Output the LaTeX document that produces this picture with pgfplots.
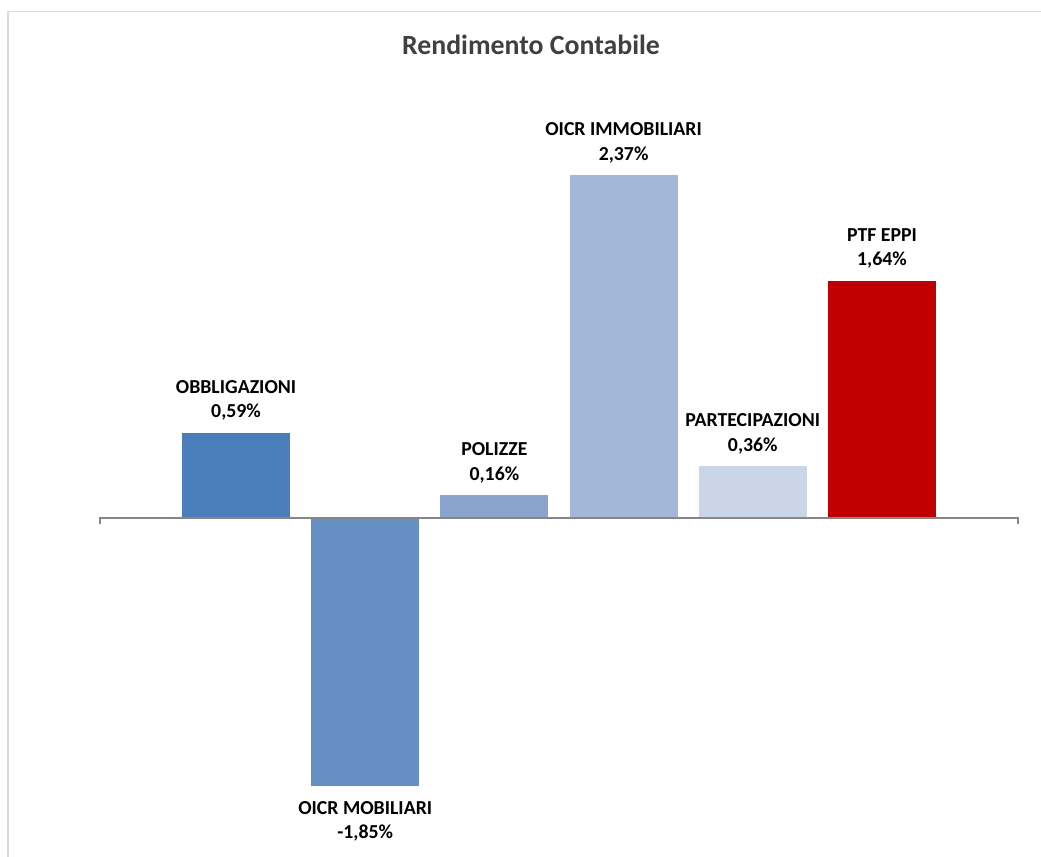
\documentclass[border=0pt]{standalone}
\usepackage{pgfplots}
\pgfplotsset{compat=1.18}
\usepackage{fontspec}
\setmainfont{Carlito}

\definecolor{obbl}{HTML}{4A7EBB}
\definecolor{oicrmob}{HTML}{668FC5}
\definecolor{polizze}{HTML}{8BA4CD}
\definecolor{oicrimm}{HTML}{A3B7D8}
\definecolor{partec}{HTML}{CAD5E7}
\definecolor{ptf}{HTML}{C00000}
\definecolor{framegray}{HTML}{D9D9D9}
\definecolor{axisgray}{HTML}{868686}
\definecolor{titlegray}{HTML}{404040}

\newcommand{\pct}{\pgfmathprintnumber[fixed,fixed zerofill,precision=2,use comma,assume math mode=true]{\pgfplotspointmeta}\%}

\begin{document}
\begin{tikzpicture}
\useasboundingbox (0,0) rectangle (1041bp,857bp);
% chart area border
\draw[framegray, line width=1.6bp] (8bp,-2bp) -- (8bp,845.5bp) -- (1045bp,845.5bp);
% title
\node[anchor=base, text=titlegray, font=\fontsize{27.8bp}{33bp}\selectfont\bfseries]
  at (531bp,802bp) {Rendimento Contabile};

\begin{axis}[
  at={(100bp,71bp)}, anchor=south west,
  scale only axis, width=918bp, height=611bp,
  xmin=-1.053, xmax=6.053, ymin=-1.85, ymax=2.37,
  axis lines=none, clip=false,
  ybar, bar width=0.836, bar shift=0pt,
  point meta=y,
  /pgf/number format/assume math mode=true,
  nodes near coords={\pct},
  every node near coord/.append style={
    font=\fontsize{19.8bp}{24.5bp}\selectfont\bfseries,
    text=black, align=center, inner sep=0pt},
  pos/.style={every node near coord/.append style={anchor=south, yshift=12bp}},
  neg/.style={every node near coord/.append style={anchor=north, yshift=-15bp}},
]
\addplot[draw=none, fill=obbl, pos,
  nodes near coords={OBBLIGAZIONI\\\pct}] coordinates {(0,0.59)};
\addplot[draw=none, fill=oicrmob, neg,
  nodes near coords={OICR MOBILIARI\\\pct}] coordinates {(1,-1.85)};
\addplot[draw=none, fill=polizze, pos,
  nodes near coords={POLIZZE\\\pct}] coordinates {(2,0.16)};
\addplot[draw=none, fill=oicrimm, pos,
  nodes near coords={OICR IMMOBILIARI\\\pct}] coordinates {(3,2.37)};
\addplot[draw=none, fill=partec, pos,
  nodes near coords={PARTECIPAZIONI\\\pct}] coordinates {(4,0.36)};
\addplot[draw=none, fill=ptf, pos,
  nodes near coords={PTF EPPI\\\pct}] coordinates {(5,1.64)};
% horizontal category axis at zero, with end ticks
\draw[axisgray, line width=1.5bp]
  ([yshift=-6bp]axis cs:-1.053,0) -- (axis cs:-1.053,0) -- (axis cs:6.053,0)
  -- ([yshift=-6bp]axis cs:6.053,0);
\end{axis}
\end{tikzpicture}
\end{document}
